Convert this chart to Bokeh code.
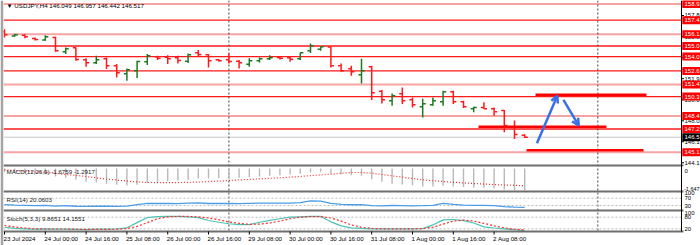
from bokeh.plotting import figure
from bokeh.models import Range1d, ColumnDataSource, Arrow, OpenHead
from bokeh.core.properties import value
from bokeh.embed import file_html
from bokeh.resources import INLINE

# ---------------- data ----------------
header_text = "\u25bc USDJPY,H4  146.049 146.957 146.442 146.517"
macd_title = "MACD(12,26,9) -1.6759 -1.2917"
rsi_title = "RSI(14) 20.0603"
stoch_title = "Stoch(5,3,3) 9.8651 14.1551"

time_labels = ["23 Jul 2024", "24 Jul 00:00", "24 Jul 16:00", "25 Jul 08:00",
               "26 Jul 00:00", "26 Jul 16:00", "29 Jul 08:00", "30 Jul 00:00",
               "30 Jul 16:00", "31 Jul 08:00", "1 Aug 00:00", "1 Aug 16:00",
               "2 Aug 08:00"]
time_label_bars = [0, 4, 8, 12, 16, 20, 24, 28, 32, 36, 40, 44, 48]

opens = [156.32, 155.94, 156.01, 155.71, 155.57, 155.80, 154.46, 154.83, 153.72, 153.44,
         153.81, 153.16, 152.42, 152.70, 153.53, 154.00, 153.95, 153.90, 153.58, 154.37,
         154.18, 153.72, 153.72, 153.58, 153.30, 153.62, 153.81, 153.93, 153.90, 153.81,
         154.55, 154.69, 154.90, 153.16, 152.88, 152.33, 153.07, 150.80, 149.91, 150.56,
         150.01, 149.36, 149.54, 149.82, 150.75, 149.82, 149.17, 149.27, 149.17, 148.99,
         147.41, 146.70]
highs = [156.57, 156.13, 156.10, 155.79, 156.01, 155.85, 154.86, 154.86, 153.87, 154.09,
         153.93, 153.32, 152.91, 153.63, 154.25, 154.09, 154.15, 154.09, 154.30, 154.62,
         154.25, 153.78, 154.30, 153.69, 153.87, 153.93, 154.15, 153.99, 153.99, 154.39,
         155.23, 154.92, 154.92, 153.37, 153.16, 153.81, 153.16, 150.91, 150.59, 151.15,
         150.22, 150.10, 150.22, 150.84, 150.84, 149.91, 149.36, 149.76, 149.29, 149.05,
         148.06, 146.78]
lows = [155.79, 155.85, 155.73, 155.51, 155.48, 154.46, 154.25, 153.62, 153.07, 153.32,
        152.85, 152.08, 151.77, 152.02, 153.23, 153.69, 153.32, 153.37, 153.41, 154.00,
        153.00, 153.56, 153.37, 152.91, 153.07, 153.47, 153.69, 153.75, 153.53, 153.69,
        154.34, 154.55, 153.00, 152.60, 152.23, 151.52, 149.98, 149.66, 149.45, 149.61,
        149.29, 148.34, 149.45, 149.45, 149.61, 149.24, 148.83, 149.15, 148.52, 146.97,
        146.36, 146.44]
closes = [156.04, 156.04, 155.85, 155.60, 155.85, 154.55, 154.74, 153.74, 153.44, 153.72,
          153.16, 152.51, 152.79, 153.56, 154.09, 153.87, 153.81, 153.65, 154.18, 154.21,
          153.62, 153.62, 153.56, 153.44, 153.62, 153.81, 153.90, 153.86, 153.76, 154.37,
          155.02, 154.92, 153.16, 152.70, 152.60, 152.70, 150.66, 150.01, 150.38, 149.91,
          149.54, 149.64, 149.91, 150.75, 149.82, 149.36, 149.27, 149.17, 148.89, 147.60,
          146.76, 146.52]
last_price = 146.517

macd_hist = [-0.25, -0.30, -0.35, -0.40, -0.45, -0.60, -0.70, -0.85, -1.00, -1.05,
             -1.15, -1.22, -1.28, -1.22, -1.10, -1.00, -0.95, -0.90, -0.85, -0.75,
             -0.75, -0.72, -0.70, -0.70, -0.65, -0.60, -0.55, -0.50, -0.45, -0.40,
             -0.30, -0.25, -0.35, -0.45, -0.50, -0.55, -0.80, -1.00, -1.15, -1.20,
             -1.25, -1.35, -1.35, -1.30, -1.35, -1.40, -1.45, -1.45, -1.50, -1.58,
             -1.64, -1.68]
macd_signal = [-0.10, -0.15, -0.20, -0.25, -0.30, -0.37, -0.45, -0.52, -0.60, -0.70,
               -0.80, -0.87, -0.95, -1.00, -1.05, -1.06, -1.07, -1.06, -1.04, -1.02,
               -0.98, -0.95, -0.90, -0.86, -0.82, -0.78, -0.74, -0.70, -0.65, -0.60,
               -0.54, -0.48, -0.42, -0.36, -0.30, -0.30, -0.35, -0.45, -0.55, -0.65,
               -0.75, -0.85, -0.92, -0.98, -1.03, -1.08, -1.13, -1.17, -1.21, -1.24,
               -1.27, -1.29]
macd_scale_labels = ["0", "-1.647"]
rsi = [35, 32, 31, 29, 31, 27, 29, 26, 25, 27,
       26, 25, 27, 35, 42, 41, 41, 40, 43, 44,
       41, 41, 41, 40, 42, 43, 43, 43, 43, 46,
       55, 54, 42, 36, 34, 35, 29, 28, 30, 29,
       28, 29, 31, 42, 36, 32, 31, 31, 29, 24,
       21, 20]
stoch_k = [28, 22, 20, 18, 20, 18, 18, 17, 16, 18,
           18, 19, 25, 52, 78, 83, 85, 84, 82, 78,
           63, 54, 46, 42, 42, 54, 64, 72, 80, 82,
           84, 84, 56, 35, 25, 22, 20, 20, 20, 20,
           20, 21, 40, 66, 68, 62, 50, 30, 24, 20,
           15, 9.87]
stoch_d = [37, 30, 24, 20, 19, 19, 19, 18, 17, 17,
           17, 18, 21, 32, 52, 72, 82, 84, 84, 82,
           76, 67, 55, 48, 43, 44, 50, 60, 72, 80,
           83, 83, 76, 60, 40, 28, 22, 20, 20, 20,
           20, 21, 28, 44, 60, 65, 60, 48, 35, 25,
           18, 14.16]

strong_levels = [157.40, 155.00, 154.02, 152.68, 150.30, 147.28]
weak_levels = [158.90, 156.10, 151.43, 148.48, 145.12]
price_ticks = [157.84, 155.88, 153.92, 151.96, 150.00, 148.04, 146.10, 144.14]
rsi_levels = [70, 30]
stoch_levels = [80, 20]

zone_prices = [150.47, 147.50, 145.30]
zone_start = [52.06, 46.47, 51.18]
zone_end = [62.94, 59.02, 62.65]

arrow_x0 = [52.2, 54.8]
arrow_y0 = [145.95, 149.98]
arrow_x1 = [54.2, 56.3]
arrow_y1 = [150.38, 147.60]

separator_bars = [22, 58.17]

# ---------------- layout ----------------
W, H = 700, 245
PX_PER_BAR = 10.2
FRAME_LEFT = 3
BAR0_PX = 4


def xpx(px):
    return (px - BAR0_PX) / PX_PER_BAR


def band_range(v_ref, px_ref, px_per_unit):
    return Range1d(v_ref - (H - px_ref) / px_per_unit, v_ref + px_ref / px_per_unit)


def short(v):
    # the price scale shows only what fits in its narrow strip
    return f"{v:.3f}"[:5]


x_start = xpx(FRAME_LEFT)
x_end = xpx(W)
AXIS_X = xpx(681)

FONT = value("Liberation Sans")
FS = value("6.2px")
FS_AX = value("6px")
RED = "#ff1a1a"
PINK = "#f6a3a3"
GREEN = "#1f7a1f"
BLUE = "#3a6fe6"

p = figure(width=W, height=H, x_range=Range1d(x_start, x_end), y_range=Range1d(H, 0),
           output_backend="svg", toolbar_location=None, min_border=0, min_border_left=FRAME_LEFT,
           x_axis_location=None, y_axis_location=None)
p.title.visible = False
p.outline_line_color = None
p.border_fill_color = "#a4a4a4"
p.background_fill_color = "white"
p.xgrid.grid_line_color = None
p.ygrid.grid_line_color = None
p.extra_y_ranges = {
    "price": band_range(last_price, 136.7, 10.75),
    "macd": band_range(0.0, 168.0, 13.3),
    "rsi": band_range(70.0, 197.7, 0.1825),
    "stoch": band_range(80.0, 216.7, 0.1933),
}

n = len(closes)
idx = list(range(n))

# level lines
p.segment(x0=x_start, x1=AXIS_X, y0=weak_levels, y1=weak_levels, line_color=PINK,
          line_width=2, y_range_name="price")
p.segment(x0=x_start, x1=AXIS_X, y0=strong_levels, y1=strong_levels, line_color=RED,
          line_width=1.3, y_range_name="price")
p.segment(x0=x_start, x1=AXIS_X, y0=last_price, y1=last_price, line_color="#c8c8c8",
          line_width=1, y_range_name="price")

# separators
p.segment(x0=separator_bars, x1=separator_bars, y0=0, y1=230, line_color="#444444",
          line_width=1, line_dash="2 2")

# OHLC bars
colors = [GREEN if c >= o else RED for o, c in zip(opens, closes)]
src = ColumnDataSource(dict(x=idx, o=opens, h=highs, l=lows, c=closes, color=colors,
                            xl=[i - 0.3 for i in idx], xr=[i + 0.3 for i in idx]))
p.segment(x0="x", x1="x", y0="l", y1="h", line_color="color", line_width=1.5,
          source=src, y_range_name="price")
p.segment(x0="xl", x1="x", y0="o", y1="o", line_color="color", line_width=1.5,
          source=src, y_range_name="price")
p.segment(x0="x", x1="xr", y0="c", y1="c", line_color="color", line_width=1.5,
          source=src, y_range_name="price")

# drawn zones
p.segment(x0=zone_start, x1=zone_end, y0=zone_prices, y1=zone_prices, line_color="#ff0000",
          line_width=2.5, y_range_name="price")

# arrows
asrc = ColumnDataSource(dict(x0=arrow_x0, y0=arrow_y0, x1=arrow_x1, y1=arrow_y1))
p.add_layout(Arrow(end=OpenHead(size=7, line_color=BLUE, line_width=2.5),
                   x_start="x0", y_start="y0", x_end="x1", y_end="y1", source=asrc,
                   line_color=BLUE, line_width=2.5, y_range_name="price"))

# MACD
p.vbar(x=idx, top=0, bottom=macd_hist, width=0.14, fill_color="#b9b9b9", line_color=None,
       y_range_name="macd")
p.line(x=idx, y=macd_signal, line_color="#ff2a2a", line_width=1.2, line_dash="1 2",
       y_range_name="macd")

# RSI
p.segment(x0=x_start, x1=AXIS_X, y0=rsi_levels, y1=rsi_levels, line_color="#bdbdbd",
          line_width=1, line_dash="2 2", y_range_name="rsi")
p.line(x=idx, y=rsi, line_color="#4a9de6", line_width=1.3, y_range_name="rsi")

# Stochastic
p.segment(x0=x_start, x1=AXIS_X, y0=stoch_levels, y1=stoch_levels, line_color="#bdbdbd",
          line_width=1, line_dash="2 2", y_range_name="stoch")
p.line(x=idx, y=stoch_k, line_color="#4cc3b5", line_width=1.2, y_range_name="stoch")
p.line(x=idx, y=stoch_d, line_color="#ff2a2a", line_width=1.2, line_dash="2 2",
       y_range_name="stoch")

# panel borders
panel_tops = [165, 191, 210, 231]
p.segment(x0=x_start, x1=xpx(683), y0=panel_tops, y1=panel_tops, line_color="#6e6e6e",
          line_width=2)

# price axis line
p.segment(x0=AXIS_X, x1=AXIS_X, y0=0, y1=231, line_color="#000000", line_width=1)

# price ticks and labels
p.segment(x0=AXIS_X, x1=xpx(683.5), y0=price_ticks, y1=price_ticks, line_color="#000000",
          line_width=1, y_range_name="price")
p.text(x=xpx(684), y=price_ticks, text=[short(v) for v in price_ticks], text_font=FONT,
       text_font_size=FS_AX, text_color="#000000", text_baseline="middle", text_align="left",
       y_range_name="price")

# level boxes
all_levels = sorted(strong_levels + weak_levels, reverse=True)
p.rect(x=xpx(692), y=all_levels, width=2.0, height=8, height_units="screen",
       fill_color="#ff0000", line_color=None, y_range_name="price")
p.text(x=xpx(684), y=all_levels, text=[short(v) for v in all_levels], text_font=FONT,
       text_font_size=FS_AX, text_color="white", text_baseline="middle", text_align="left",
       y_range_name="price")
p.rect(x=xpx(692), y=[last_price], width=2.0, height=8, height_units="screen",
       fill_color="#000000", line_color=None, y_range_name="price")
p.text(x=xpx(684), y=[last_price], text=[short(last_price)], text_font=FONT,
       text_font_size=FS_AX, text_color="white", text_baseline="middle", text_align="left",
       y_range_name="price")

# indicator scale labels
p.text(x=xpx(684), y=[0], text=[macd_scale_labels[0]], text_font=FONT, text_font_size=FS_AX,
       text_color="#000000", text_baseline="top", text_align="left", y_range_name="macd")
p.text(x=xpx(683.5), y=[min(macd_hist)], text=[macd_scale_labels[1]], text_font=FONT,
       text_font_size=value("5.5px"), text_color="#000000", text_baseline="bottom",
       text_align="left", y_range_name="macd")
p.text(x=xpx(684), y=[100, 70, 30], text=["100", "70", "30"], text_font=FONT,
       text_font_size=FS_AX, text_color="#000000", text_baseline="middle", text_align="left",
       y_range_name="rsi")
p.text(x=xpx(684), y=[100, 80, 20], text=["100", "80", "20"], text_font=FONT,
       text_font_size=FS_AX, text_color="#000000", text_baseline="middle", text_align="left",
       y_range_name="stoch")

# titles
p.text(x=xpx(6), y=[4.5], text=[header_text], text_font=FONT, text_font_size=FS,
       text_color="#000000", text_baseline="middle", text_align="left")
p.text(x=xpx(6), y=[171, 198.5, 217.5], text=[macd_title, rsi_title, stoch_title],
       text_font=FONT, text_font_size=FS, text_color="#222222", text_baseline="middle",
       text_align="left")

# time axis
p.segment(x0=time_label_bars, x1=time_label_bars, y0=231, y1=234, line_color="#000000",
          line_width=1)
p.text(x=time_label_bars, y=237.5, text=time_labels, text_font=FONT, text_font_size=FS,
       text_color="#000000", text_baseline="middle", text_align="left", x_offset=-1)

open("out.html", "w").write(file_html(p, INLINE))
